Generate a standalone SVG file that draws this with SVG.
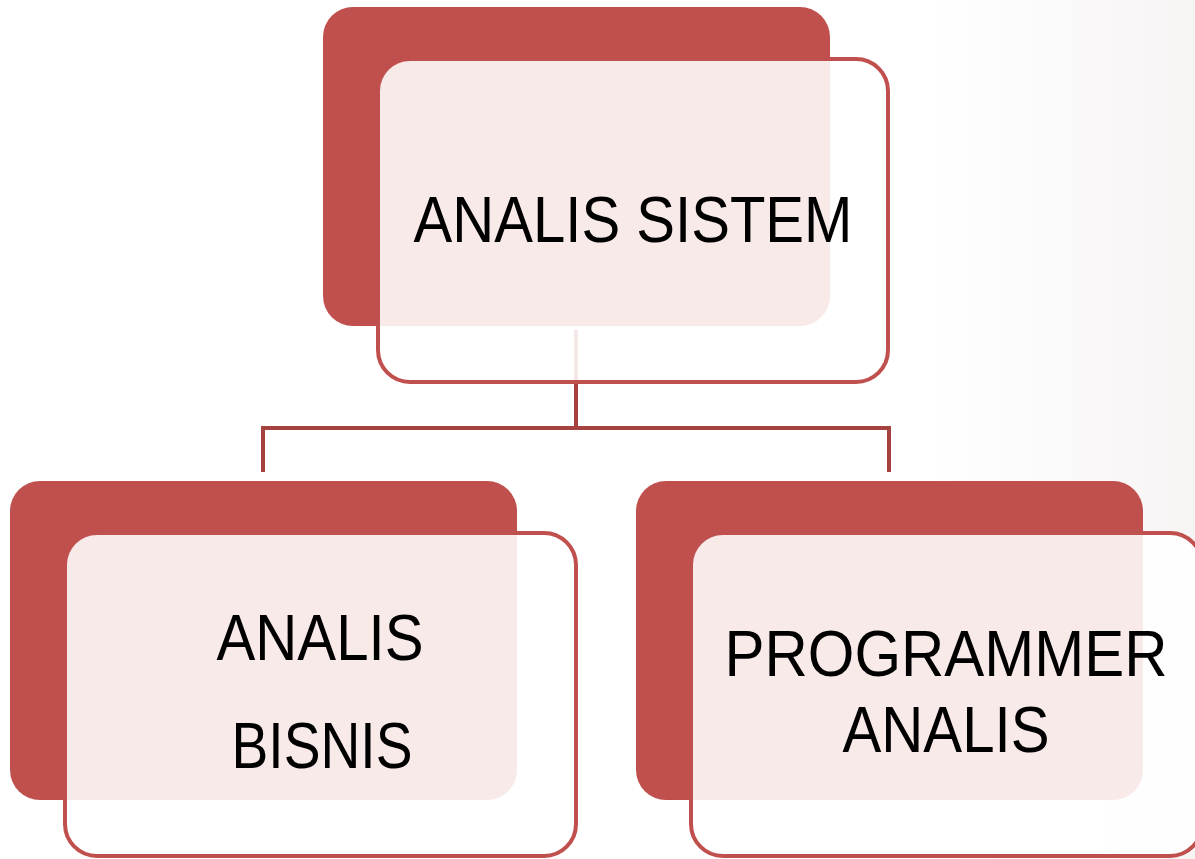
<svg xmlns="http://www.w3.org/2000/svg" width="1195" height="859" viewBox="0 0 1195 859">
  <defs>
    <linearGradient id="bg" x1="0" y1="0" x2="1" y2="0">
      <stop offset="0" stop-color="#ffffff"/>
      <stop offset="0.78" stop-color="#ffffff"/>
      <stop offset="1" stop-color="#f7f4f4"/>
    </linearGradient>
  </defs>
  <style>
    .back { fill: #c0504d; }
    .front { fill: #ffffff; fill-opacity: 0.88; stroke: #c0504d; stroke-width: 4; }
    .conn { fill: none; stroke: #a5423f; stroke-width: 4; }
    .lbl { font-family: "Liberation Sans", Arial, sans-serif; font-size: 64px; fill: #000000; text-anchor: middle; }
  </style>
  <rect x="0" y="0" width="1195" height="859" fill="url(#bg)"/>

  <g id="connectors">
    <path class="conn" d="M576,330 V428"/>
    <path class="conn" d="M263,472 V428 H889 V472"/>
  </g>

  <g id="node-analis-sistem">
    <rect class="back" x="323" y="7" width="507" height="319" rx="30"/>
    <rect class="front" x="378" y="59" width="510" height="323" rx="32"/>
    <text class="lbl" x="633" y="242" textLength="439" lengthAdjust="spacingAndGlyphs">ANALIS SISTEM</text>
  </g>

  <g id="node-analis-bisnis">
    <rect class="back" x="10" y="481" width="507" height="319" rx="30"/>
    <rect class="front" x="65" y="533" width="511" height="323" rx="32"/>
    <text class="lbl" x="320" y="660" textLength="207" lengthAdjust="spacingAndGlyphs">ANALIS</text>
    <text class="lbl" x="322" y="768" textLength="181" lengthAdjust="spacingAndGlyphs">BISNIS</text>
  </g>

  <g id="node-programmer-analis">
    <rect class="back" x="636" y="481" width="507" height="319" rx="30"/>
    <rect class="front" x="691" y="533" width="511" height="323" rx="32"/>
    <text class="lbl" x="946" y="676" textLength="443" lengthAdjust="spacingAndGlyphs">PROGRAMMER</text>
    <text class="lbl" x="946" y="752" textLength="207" lengthAdjust="spacingAndGlyphs">ANALIS</text>
  </g>
</svg>
